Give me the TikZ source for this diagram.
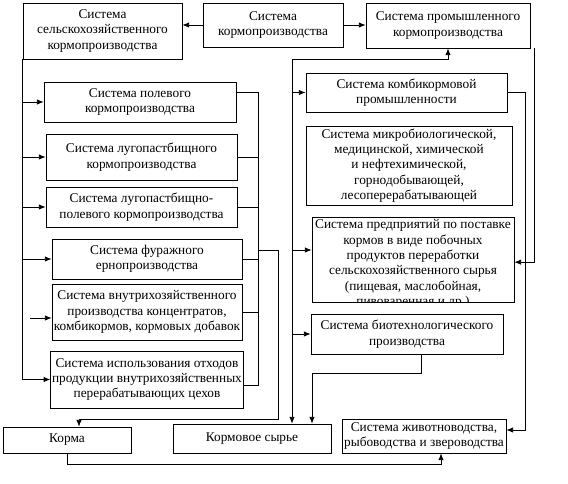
\documentclass[tikz,border=0pt]{standalone}
\usepackage{fontspec}
\setmainfont{Liberation Serif}
\usetikzlibrary{arrows.meta}

\begin{document}
\begin{tikzpicture}[x=0.75pt,y=-0.75pt,line width=0.6pt,
    blk/.style 2 args={draw, minimum width=#1*0.75pt, minimum height=#2*0.75pt,
      inner sep=1pt, align=center, font=\fontsize{10}{11.5}\selectfont},
    arr/.style={-{Latex[length=5pt,width=4pt]}}]
  \useasboundingbox (0,0) rectangle (568,483);

  % top row
  \node[blk={159}{56}] (A) at (102.5,31) {Система\\сельскохозяйственного\\кормопроизводства};
  \node[blk={140}{44}] (B) at (273,25) {Система\\кормопроизводства};
  \node[blk={164}{45}] (C) at (448,25.5) {Система промышленного\\кормопроизводства};

  % farm systems
  \node[blk={192}{40}] (D) at (140,102) {Система полевого\\кормопроизводства};
  \node[blk={191}{46}] (E) at (141.5,157) {Система лугопастбищного\\кормопроизводства};
  \node[blk={191}{40}] (F) at (141.5,207) {Система лугопастбищно-\\полевого кормопроизводства};
  \node[blk={190}{40}] (G) at (147,259) {Система фуражного\\ернопроизводства};
  \node[blk={190}{56}] (H) at (147,312) {Система внутрихозяйственного\\производства концентратов,\\комбикормов, кормовых добавок};
  \node[blk={190}{57}] (I) at (147,379.5) {Система использования отходов\\продукции внутрихозяйственных\\перерабатывающих цехов};

  % industrial systems
  \node[blk={201}{39}] (J) at (406.5,92.5) {Система комбикормовой\\промышленности};
  \node[blk={206}{79}] (K) at (409,165.5) {Система микробиологической,\\медицинской, химической\\и нефтехимической,\\горнодобывающей,\\лесоперерабатывающей};
  \node[blk={202}{85}] (L) at (413,259.5) {};
  \begin{scope}
    \clip (L.south west) rectangle (L.north east);
    \node[anchor=north, align=center, inner sep=2pt, font=\fontsize{10}{11.5}\selectfont] (Ltxt) at (L.north)
      {Система предприятий по поставке\\кормов в виде побочных\\продуктов переработки\\сельскохозяйственного сырья\\(пищевая, маслобойная,\\пивоваренная и др.)};
  \end{scope}
  \node[blk={192}{40}] (M) at (407,334) {Система биотехнологического\\производства};

  % bottom row
  \node[blk={128}{26}] (N) at (67,440) {Корма};
  \node[blk={158}{29}] (O) at (252,438.5) {Кормовое сырье};
  \node[blk={164}{34}] (P) at (424,436) {Система животноводства,\\рыбоводства и звероводства};

  \draw[arr] (B.west) -- (A.east |- B.west);
  \draw[arr] (B.east) -- (C.west |- B.east);

  % left bus
  \draw[arr] (A.south west) |- (I.west);
  \foreach \b in {D,E,F,G}
    \draw[arr] (A.south west |- \b.west) -- (\b.west);
  \coordinate (h0) at (30,318);
  \draw[arr] (h0) -- (H.west |- h0);

  % collecting line of the farm systems
  \coordinate (rb) at (258,385);
  \draw ([yshift=7pt]D.east) -| (rb) -- (I.east |- rb);
  \foreach \b in {E,F,G,H}
    \draw (\b.east) -- (rb |- \b.east);
  \coordinate (g1) at (258,250);
  \coordinate (k1) at (278,419);
  \draw[arr] (g1) -| (k1) -| ([xshift=9pt]N.north);

  % industrial bus
  \coordinate (rt) at (292,59);
  \draw[arr] (rt) -| (C.south);
  \draw[arr] (rt) -- (O.north -| rt);
  \foreach \b in {J,M}
    \draw[arr] (rt |- \b.west) -- (\b.west);
  \coordinate (l1) at (292,250);
  \draw[arr] (l1) -- (L.west |- l1);
  \coordinate (c1) at (534,48);
  \draw[arr] (c1) |- ([yshift=-2pt]L.east);
  \coordinate (jr) at (525,430);
  \draw[arr] (J.east) -| (jr) -- (P.east |- jr);
  \coordinate (m1) at (312,373);
  \draw[arr] ([xshift=11pt]M.south) |- (m1) -- (O.north -| m1);
  \coordinate (p1) at (441,464);
  \draw[arr] (N.south) |- (p1) -- (P.south -| p1);
\end{tikzpicture}
\end{document}
